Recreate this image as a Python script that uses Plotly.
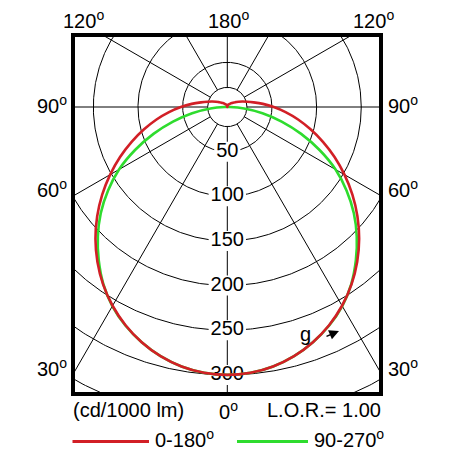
import numpy as np
import plotly.graph_objects as go

# ---------------- data ----------------
gamma_deg = list(range(0, 185, 5))  # angle from nadir (0) to zenith (180)
red_0_180 = [300, 298.7, 295, 288.8, 280.3, 269.6, 257, 242.5, 226.3, 208.8,
             190.2, 171, 151.5, 132.5, 114, 96.5, 80.5, 65.5, 52, 40, 30, 23,
             18, 14, 11, 9, 7, 6, 5, 4, 3.5, 3, 2.2, 1.5, 1, 0.5, 0]
green_90_270 = [300, 298.7, 295, 288.8, 280.3, 270, 257.5, 242, 224, 205,
                185, 163, 140, 114, 88, 63, 40, 19, 3, 0, 0, 0, 0, 0, 0, 0,
                0, 0, 0, 0, 0, 0, 0, 0, 0, 0, 0]
ring_values = [50, 100, 150, 200, 250, 300, 350]
inner_ring = 22
ring_labels = ["50", "100", "150", "200", "250", "300"]
spoke_angles = [0, 30, 60, 90, 120, 150, 180, 210, 240, 270, 300, 330]

# ---------------- geometry (pixels) ----------------
W = H = 456
L, R, T, B = 73, 75, 35, 62
PW, PH = W - L - R, H - T - B
CX, CY = 227.3, 107.0          # pole position in pixels
S = 0.893                      # pixels per cd/1000lm
xr = [-(CX - L) / S, (L + PW - CX) / S]
yr = [-(T + PH - CY) / S, (CY - T) / S]


def px(x):
    return (x - L) / PW


def py(y):
    return (T + PH - y) / PH


def curve(vals):
    g = np.radians(np.array(gamma_deg, dtype=float))
    v = np.array(vals, dtype=float)
    x = np.concatenate([-(v * np.sin(g))[::-1], (v * np.sin(g))[1:]])
    y = np.concatenate([-(v * np.cos(g))[::-1], (-v * np.cos(g))[1:]])
    # drop consecutive duplicates (all zero values sit on the pole)
    keep = [0]
    for i in range(1, len(x)):
        if abs(x[i] - x[keep[-1]]) > 1e-6 or abs(y[i] - y[keep[-1]]) > 1e-6:
            keep.append(i)
    return x[keep], y[keep]


fig = go.Figure()

# rings
th = np.linspace(0, 2 * np.pi, 721)
rx, ry = [], []
for r in [inner_ring] + ring_values:
    rx += list(r * np.cos(th)) + [None]
    ry += list(r * np.sin(th)) + [None]
fig.add_trace(go.Scatter(x=rx, y=ry, mode="lines", line=dict(color="black", width=1),
                         hoverinfo="skip", showlegend=False))

# spokes
sx, sy = [], []
for a in spoke_angles:
    ar = np.radians(a)
    sx += [inner_ring * np.sin(ar), 700 * np.sin(ar), None]
    sy += [-inner_ring * np.cos(ar), -700 * np.cos(ar), None]
fig.add_trace(go.Scatter(x=sx, y=sy, mode="lines", line=dict(color="black", width=1),
                         hoverinfo="skip", showlegend=False))

# white boxes behind ring labels
FS = 20
bx, by = [], []
for lab in ring_labels:
    r = float(lab)
    hw = (len(lab) * 0.556 * FS + 4) / 2 / S
    hh = 10 / S
    bx += [-hw, hw, hw, -hw, -hw, None]
    by += [-r - hh, -r - hh, -r + hh, -r + hh, -r - hh, None]
fig.add_trace(go.Scatter(x=bx, y=by, mode="lines", fill="toself", fillcolor="white",
                         line=dict(width=0, color="white"), hoverinfo="skip",
                         showlegend=False))

# ring labels
fig.add_trace(go.Scatter(x=[0] * len(ring_labels), y=[-float(v) for v in ring_labels],
                         mode="text", text=ring_labels, textposition="middle center",
                         textfont=dict(size=FS, color="black", family="Liberation Sans"),
                         hoverinfo="skip", showlegend=False))

# curves
gx, gy = curve(green_90_270)
fig.add_trace(go.Scatter(x=gx, y=gy, mode="lines",
                         line=dict(color="#2edc2e", width=2.6, shape="spline", smoothing=1),
                         name="90-270°", showlegend=False))
rx2, ry2 = curve(red_0_180)
fig.add_trace(go.Scatter(x=rx2, y=ry2, mode="lines",
                         line=dict(color="#d21f26", width=2.6, shape="spline", smoothing=1),
                         name="0-180°", showlegend=False))

fig.update_xaxes(range=xr, visible=False, fixedrange=True)
fig.update_yaxes(range=yr, visible=False, fixedrange=True)

FONT = "Liberation Sans, Arial, sans-serif"
ann = []


def txt(t, x, y, xa="center", size=20):
    ann.append(dict(text=t, x=px(x), y=py(y), xref="paper", yref="paper",
                    xanchor=xa, yanchor="middle", showarrow=False,
                    font=dict(size=size, color="black", family=FONT)))


deg = "<sup>o</sup>"
txt("120" + deg, 83, 19)
txt("180" + deg, 228, 19)
txt("120" + deg, 373, 19)
for lab, yy in [("90", 104), ("60", 188), ("30", 367)]:
    txt(lab + deg, 69, yy, "right")
    txt(lab + deg, 386, yy, "left")
txt("(cd/1000 lm)", 71, 410, "left")
txt("0" + deg, 228, 410)
txt("L.O.R.= 1.00", 383, 410, "right")
txt("0-180" + deg, 153, 439, "left")
txt("90-270" + deg, 312, 439, "left")
txt("g", 305, 334)
ann.append(dict(text="", x=px(339), y=py(331), xref="paper", yref="paper",
                ax=-14, ay=6, showarrow=True, arrowhead=2, arrowsize=1.4,
                arrowwidth=1.4, arrowcolor="black"))

shapes = [
    dict(type="rect", xref="paper", yref="paper", x0=0, x1=1, y0=0, y1=1,
         line=dict(color="black", width=4), layer="above"),
    dict(type="line", xref="paper", yref="paper", x0=px(72.5), x1=px(149),
         y0=py(441.5), y1=py(441.5), line=dict(color="#d21f26", width=3)),
    dict(type="line", xref="paper", yref="paper", x0=px(237), x1=px(308),
         y0=py(441.5), y1=py(441.5), line=dict(color="#2edc2e", width=3)),
]

fig.update_layout(width=W, height=H, margin=dict(l=L, r=R, t=T, b=B),
                  paper_bgcolor="white", plot_bgcolor="white",
                  annotations=ann, shapes=shapes, showlegend=False,
                  font=dict(family=FONT))
fig.write_html("out.html")
